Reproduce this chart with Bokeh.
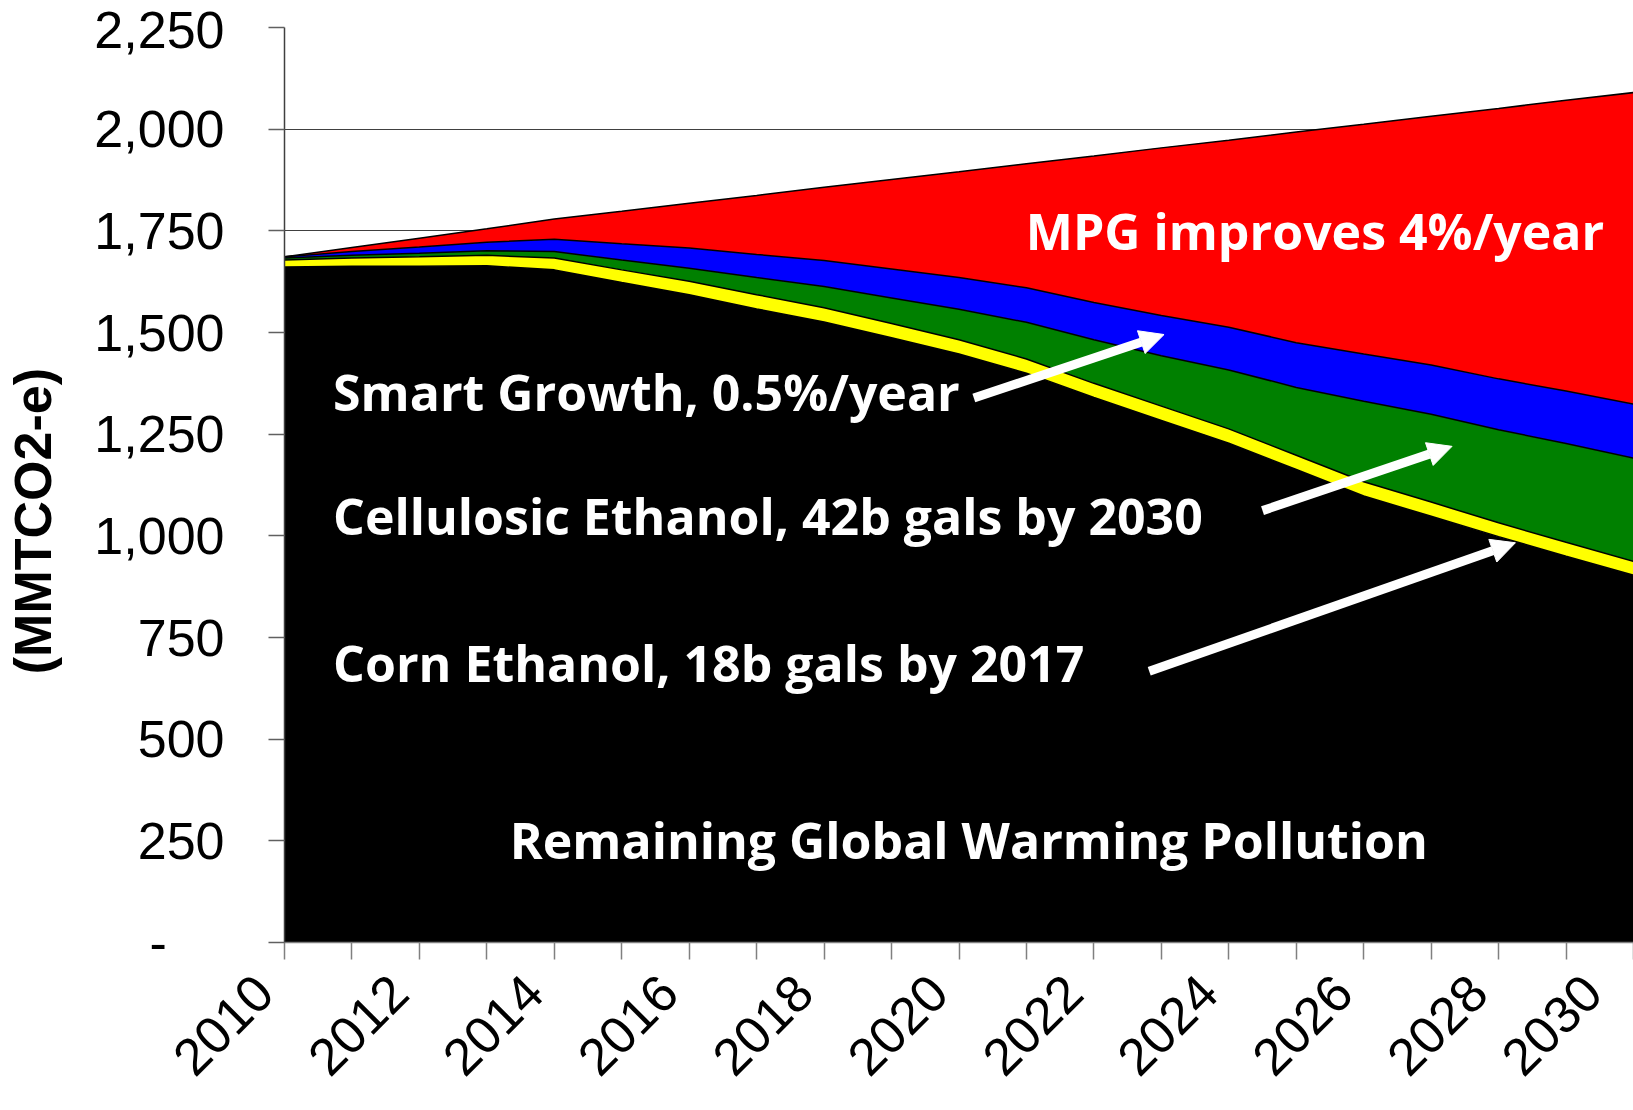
import math
from bokeh.plotting import figure
from bokeh.models import (ColumnDataSource, Range1d, FixedTicker, NumeralTickFormatter,
                          Label, Arrow, NormalHead)
from bokeh.embed import file_html
from bokeh.resources import INLINE

# ---------------- data ----------------
years = list(range(2010, 2031))
remaining = [1661, 1663, 1663, 1664, 1654, 1623, 1593, 1558, 1526, 1487, 1447,
             1400, 1340, 1284, 1228, 1163, 1098, 1048, 998, 950, 903]
corn_ethanol = [17, 20, 23, 26, 29, 31, 33, 35, 35, 35, 35,
                35, 35, 35, 35, 35, 35, 35, 34, 34, 34]
cellulosic_ethanol = [5, 7, 9, 11, 16, 24, 32, 42, 52, 63, 75,
                      90, 107, 124, 145, 167, 198, 216, 229, 243, 254]
smart_growth = [3, 9, 15, 21, 30, 40, 50, 57, 64, 71, 78,
                85, 92, 99, 105, 110, 116, 121, 125, 129, 133]
mpg_improves = [0, 10, 22, 33, 50, 80, 110, 145, 180, 220, 260,
                305, 360, 412, 460, 518, 565, 612, 665, 715, 766]

series_names = ["remaining", "corn", "cellulosic", "smart", "mpg"]
series_colors = ["#000000", "#FFFF00", "#008000", "#0000FF", "#FF0000"]

y_ticks = [0, 250, 500, 750, 1000, 1250, 1500, 1750, 2000, 2250]
x_label_years = [2010, 2012, 2014, 2016, 2018, 2020, 2022, 2024, 2026, 2028, 2030]

ann_texts = ["MPG improves 4%/year",
             "Smart Growth, 0.5%/year",
             "Cellulosic Ethanol, 42b gals by 2030",
             "Corn Ethanol, 18b gals by 2017",
             "Remaining Global Warming Pollution"]
ann_x = [2020.99, 2010.72, 2010.72, 2010.72, 2013.34]
ann_y = [1749, 1353, 1050, 688, 253]

arrow_x0 = [2020.22, 2024.50, 2022.82]
arrow_y0 = [1339, 1062, 667]
arrow_x1 = [2023.04, 2027.31, 2028.25]
arrow_y1 = [1495, 1220, 983]

NBSP = "\u00a0"

# ---------------- figure ----------------
source = ColumnDataSource(dict(year=years, remaining=remaining, corn=corn_ethanol,
                               cellulosic=cellulosic_ethanol, smart=smart_growth,
                               mpg=mpg_improves))

p = figure(width=1633, height=1110,
           x_range=Range1d(2010, 2030), y_range=Range1d(0, 2250),
           output_backend="svg", toolbar_location=None,
           min_border_left=284, min_border_right=0,
           min_border_top=27, min_border_bottom=168)

p.varea_stack(stackers=series_names, x="year", color=series_colors, source=source)
p.vline_stack(stackers=series_names, x="year", color="black", line_width=1.5, source=source)

# y axis
p.yaxis.ticker = FixedTicker(ticks=y_ticks)
p.yaxis.formatter = NumeralTickFormatter(format="0,0")
p.yaxis.major_label_overrides = {0: "-" + NBSP * 4}
p.yaxis.major_label_text_font = "Liberation Sans"
p.yaxis.major_label_text_font_size = "52px"
p.yaxis.major_label_text_color = "black"
p.yaxis.major_label_standoff = 44
p.yaxis.major_tick_out = 16
p.yaxis.major_tick_in = 0
p.yaxis.minor_tick_out = 0
p.yaxis.minor_tick_in = 0
p.yaxis.axis_line_color = "#404040"
p.yaxis.axis_line_width = 1.5
p.yaxis.major_tick_line_color = "#606060"
p.yaxis.major_tick_line_width = 1.5
p.yaxis.axis_label = "(MMTCO2-e)" + NBSP * 5
p.yaxis.axis_label_text_font = "Liberation Sans"
p.yaxis.axis_label_text_font_style = "bold"
p.yaxis.axis_label_text_font_size = "52px"
p.yaxis.axis_label_text_color = "black"
p.yaxis.axis_label_standoff = 29

# x axis: tick marks every year, labels every second year
p.xaxis.ticker = FixedTicker(ticks=years)
p.xaxis.major_label_overrides = {yr: (str(yr) + NBSP * 2 if yr in x_label_years else "")
                                 for yr in years}
p.xaxis.major_label_orientation = math.pi / 4
p.xaxis.major_label_text_font = "Liberation Sans"
p.xaxis.major_label_text_font_size = "52px"
p.xaxis.major_label_text_color = "black"
p.xaxis.major_label_standoff = 4
p.xaxis.major_tick_out = 17
p.xaxis.major_tick_in = 0
p.xaxis.minor_tick_out = 0
p.xaxis.minor_tick_in = 0
p.xaxis.axis_line_color = "#808080"
p.xaxis.axis_line_width = 1.5
p.xaxis.major_tick_line_color = "#808080"
p.xaxis.major_tick_line_width = 1.5

p.ygrid.ticker = FixedTicker(ticks=y_ticks)
p.ygrid.grid_line_color = "#404040"
p.ygrid.grid_line_width = 1
p.xgrid.visible = False
p.outline_line_color = None
p.background_fill_color = "white"
p.border_fill_color = "white"

# annotations
for t, x, y in zip(ann_texts, ann_x, ann_y):
    p.add_layout(Label(x=x, y=y, text=t, text_color="white", text_font="Open Sans",
                       text_font_size="50px", text_font_style="bold",
                       text_align="left", text_baseline="alphabetic"))

for x0, y0, x1, y1 in zip(arrow_x0, arrow_y0, arrow_x1, arrow_y1):
    p.add_layout(Arrow(end=NormalHead(size=24, fill_color="white", line_color="white",
                                      line_width=1),
                       x_start=x0, y_start=y0, x_end=x1, y_end=y1,
                       line_color="white", line_width=9))

open("out.html", "w").write(file_html(p, INLINE))
